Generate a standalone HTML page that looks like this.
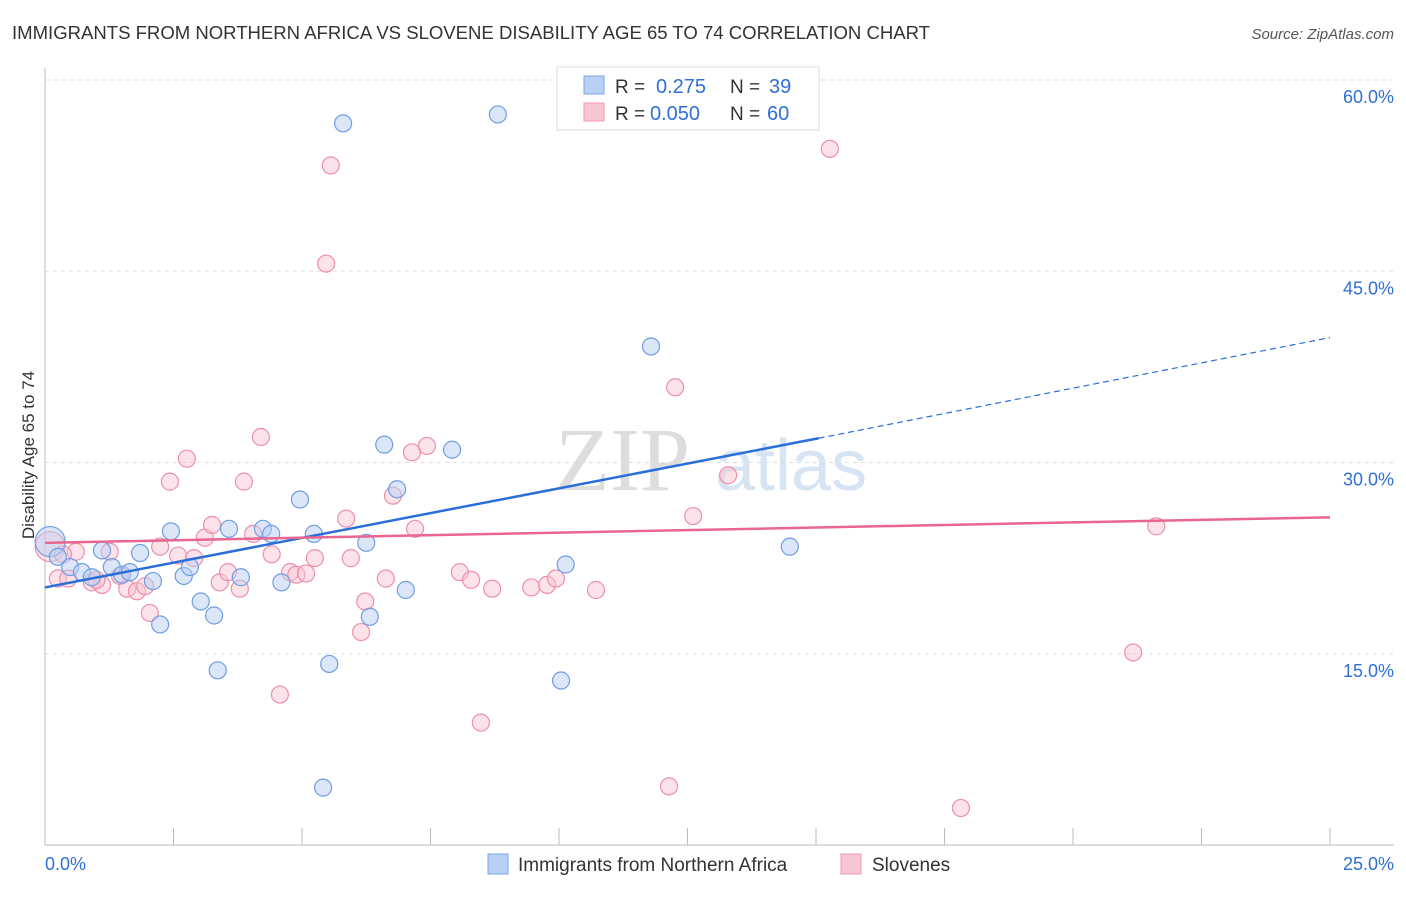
<!DOCTYPE html>
<html><head><meta charset="utf-8"><style>
body{margin:0;background:#fff;font-family:"Liberation Sans",sans-serif}
</style></head><body>
<svg id="chart" width="1406" height="892" xmlns="http://www.w3.org/2000/svg" font-family="Liberation Sans, sans-serif">
<text x="12" y="39" font-size="18.4" fill="#333" textLength="918" lengthAdjust="spacingAndGlyphs">IMMIGRANTS FROM NORTHERN AFRICA VS SLOVENE DISABILITY AGE 65 TO 74 CORRELATION CHART</text>
<text x="1394" y="39" font-size="15" fill="#555" font-style="italic" text-anchor="end">Source: ZipAtlas.com</text>
<text x="34" y="455" font-size="17" fill="#333" text-anchor="middle" transform="rotate(-90 34 455)">Disability Age 65 to 74</text>
<text x="555" y="490" font-size="90" fill="#ddd" font-family="Liberation Serif, serif">ZIP</text>
<text x="715" y="490" font-size="72" fill="#d6e4f3">atlas</text>
<g id="grid"></g><g id="pts"></g><g id="lines"></g>
<g>
<rect x="557" y="67" width="262" height="63" fill="#fff" stroke="#ddd"/>
<rect x="584" y="76" width="20" height="18" fill="#b8d0f4" stroke="#7aa6e6"/>
<rect x="584" y="103" width="20" height="18" fill="#f9c6d4" stroke="#ee9ab1"/>
<text x="615" y="93" font-size="19" fill="#333">R =</text>
<text x="656" y="93" font-size="20" fill="#2f6fd6">0.275</text>
<text x="730" y="93" font-size="19" fill="#333">N =</text>
<text x="769" y="93" font-size="20" fill="#2f6fd6">39</text>
<text x="615" y="120" font-size="19" fill="#333">R =</text>
<text x="650" y="120" font-size="20" fill="#2f6fd6">0.050</text>
<text x="730" y="120" font-size="19" fill="#333">N =</text>
<text x="767" y="120" font-size="20" fill="#2f6fd6">60</text>
</g>
<g>
<rect x="488" y="854" width="20" height="20" fill="#b8d0f4" stroke="#7aa6e6"/>
<text x="518" y="871" font-size="19" fill="#333">Immigrants from Northern Africa</text>
<rect x="841" y="854" width="20" height="20" fill="#f9c6d4" stroke="#ee9ab1"/>
<text x="872" y="871" font-size="19" fill="#333">Slovenes</text>
</g>
<text x="45" y="870" font-size="18" fill="#2f6fd6">0.0%</text>
<text x="1394" y="870" font-size="18" fill="#2f6fd6" text-anchor="end">25.0%</text>
</svg>
<script>
const yTicks=[15,30,45,60];
const blueX=[0.1,0.25,0.49,0.72,0.91,1.11,1.3,1.5,1.65,1.85,2.1,2.24,2.45,2.7,2.82,3.03,3.29,3.36,3.58,3.81,4.24,4.4,4.6,4.96,5.23,5.53,5.41,5.8,6.25,6.32,6.6,6.85,7.02,7.92,8.81,10.04,10.13,11.79,14.49];
const blueY=[23.8,22.6,21.8,21.4,21.0,23.1,21.8,21.2,21.4,22.9,20.7,17.3,24.6,21.1,21.8,19.1,18.0,13.7,24.8,21.0,24.8,24.4,20.6,27.1,24.4,14.2,4.5,56.6,23.7,17.9,31.4,27.9,20.0,31.0,57.3,12.9,22.0,39.1,23.4];
const pinkX=[0.1,0.25,0.45,0.6,0.91,1.11,1.26,1.46,1.6,1.79,1.95,2.04,2.24,2.43,2.59,2.76,2.9,3.11,3.25,3.4,3.56,3.79,3.87,4.05,4.2,4.41,4.57,4.77,4.89,5.08,5.25,5.47,5.56,5.86,5.95,6.15,6.23,6.63,6.77,7.14,7.2,7.43,8.07,8.29,8.48,8.7,9.46,9.77,9.94,10.72,12.14,12.26,12.61,13.29,15.27,17.82,21.17,21.62,0.35,1.0];
const pinkY=[23.4,20.9,20.9,23.0,20.6,20.4,23.0,21.1,20.1,19.9,20.3,18.2,23.4,28.5,22.7,30.3,22.5,24.1,25.1,20.6,21.4,20.1,28.5,24.4,32.0,22.8,11.8,21.4,21.2,21.3,22.5,45.6,53.3,25.6,22.5,16.7,19.1,20.9,27.4,30.8,24.8,31.3,21.4,20.8,9.6,20.1,20.2,20.4,20.9,20.0,4.6,35.9,25.8,29.0,54.6,2.9,15.1,25.0,22.8,20.8];
const NS="http://www.w3.org/2000/svg";
const sx=v=>45+v/25*1285, sy=v=>845-v/60*765;
const grid=document.getElementById('grid');
function mk(tag,a,p){const e=document.createElementNS(NS,tag);for(const k in a)e.setAttribute(k,a[k]);p.appendChild(e);return e;}
const ax=mk('line',{x1:45,y1:68,x2:45,y2:845,stroke:'#bbb'},grid);


const xa=mk('line',{x1:45,y1:845,x2:1394,y2:845,stroke:'#bbb'},grid);


for(let i=0;i<=10;i++){const x=45+i*128.5;const t=mk('line',{x1:x,y1:828,x2:x,y2:845,stroke:'#bbb'},grid);

}
yTicks.forEach(v=>{const g=mk('line',{x1:45,y1:sy(v),x2:1394,y2:sy(v),stroke:'#ddd','stroke-dasharray':'4,4'},grid);


const t=mk('text',{x:1394,y:sy(v)+23,'font-size':18,fill:'#2f6fd6','text-anchor':'end'},grid);t.textContent=v.toFixed(1)+'%';

});
const pts=document.getElementById('pts');
function draw(xs,ys,fill,stroke,name){xs.forEach((x,i)=>{const c=mk('circle',{cx:sx(x),cy:sy(ys[i]),r:i==0?15:8.5,fill:fill,'fill-opacity':0.5,stroke:stroke,'stroke-width':1.2},pts);

});}
draw(pinkX,pinkY,'#f9c6d4','#ee8fab','slovenes-point');
draw(blueX,blueY,'#b8d0f4','#6f9ee3','immigrants-point');
const L=document.getElementById('lines');
const b1=mk('line',{x1:sx(0),y1:sy(20.2),x2:sx(15.05),y2:sy(31.9),stroke:'#2a6fd8','stroke-width':2.5},L);


const b2=mk('line',{x1:sx(15.05),y1:sy(31.9),x2:sx(25),y2:sy(39.8),stroke:'#2a6fd8','stroke-width':1.2,'stroke-dasharray':'6,4'},L);


const p1=mk('line',{x1:sx(0),y1:sy(23.7),x2:sx(25),y2:sy(25.7),stroke:'#e8668f','stroke-width':2.5},L);


</script>
</body></html>
